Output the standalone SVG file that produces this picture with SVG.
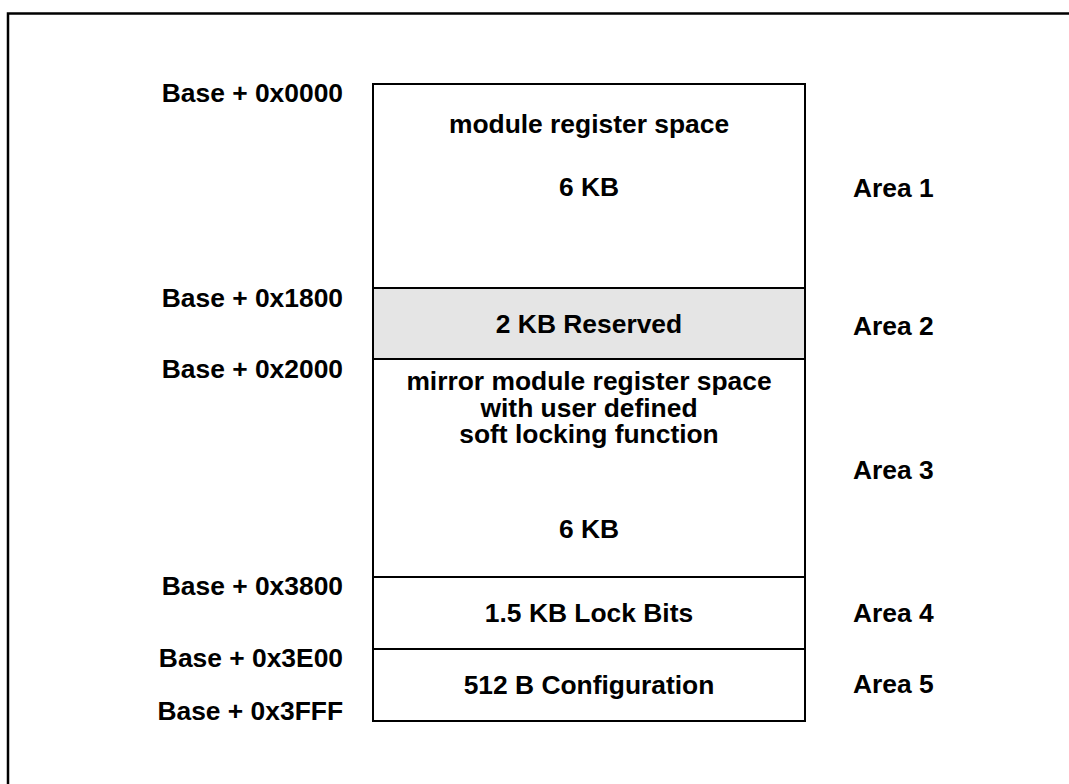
<svg xmlns="http://www.w3.org/2000/svg" width="1069" height="784" viewBox="0 0 1069 784">
<style>
.t{font-family:"Liberation Sans",Arial,Helvetica,sans-serif;font-weight:bold;font-size:26.4px;fill:#000}
.a{text-anchor:end}
.c{text-anchor:middle}
.box{fill:#fff;stroke:#000;stroke-width:2}
</style>
<rect width="1069" height="784" fill="#fff"/>
<g id="frame" fill="none" stroke="#000" stroke-width="2.5">
<path d="M8,784 V13.5 H1069"/>
</g>
<g id="area1">
<rect class="box" x="373" y="84" width="432" height="204"/>
<text class="t c" x="589" y="133">module register space</text>
<text class="t c" x="589" y="196">6 KB</text>
</g>
<g id="area2">
<rect class="box" x="373" y="288" width="432" height="71" style="fill:#e5e5e5"/>
<text class="t c" x="589" y="333">2 KB Reserved</text>
</g>
<g id="area3">
<rect class="box" x="373" y="359" width="432" height="218"/>
<text class="t c" x="589" y="390">mirror module register space</text>
<text class="t c" x="589" y="417">with user defined</text>
<text class="t c" x="589" y="443">soft locking function</text>
<text class="t c" x="589" y="538">6 KB</text>
</g>
<g id="area4">
<rect class="box" x="373" y="577" width="432" height="72"/>
<text class="t c" x="589" y="622">1.5 KB Lock Bits</text>
</g>
<g id="area5">
<rect class="box" x="373" y="649" width="432" height="72"/>
<text class="t c" x="589" y="694">512 B Configuration</text>
</g>
<g id="addresses">
<text class="t a" x="343" y="102">Base + 0x0000</text>
<text class="t a" x="343" y="307">Base + 0x1800</text>
<text class="t a" x="343" y="378">Base + 0x2000</text>
<text class="t a" x="343" y="595">Base + 0x3800</text>
<text class="t a" x="343" y="667">Base + 0x3E00</text>
<text class="t a" x="343" y="720">Base + 0x3FFF</text>
</g>
<g id="areas">
<text class="t" x="853" y="197">Area 1</text>
<text class="t" x="853" y="335">Area 2</text>
<text class="t" x="853" y="479">Area 3</text>
<text class="t" x="853" y="622">Area 4</text>
<text class="t" x="853" y="693">Area 5</text>
</g>
<g id="connectors"></g>
</svg>
